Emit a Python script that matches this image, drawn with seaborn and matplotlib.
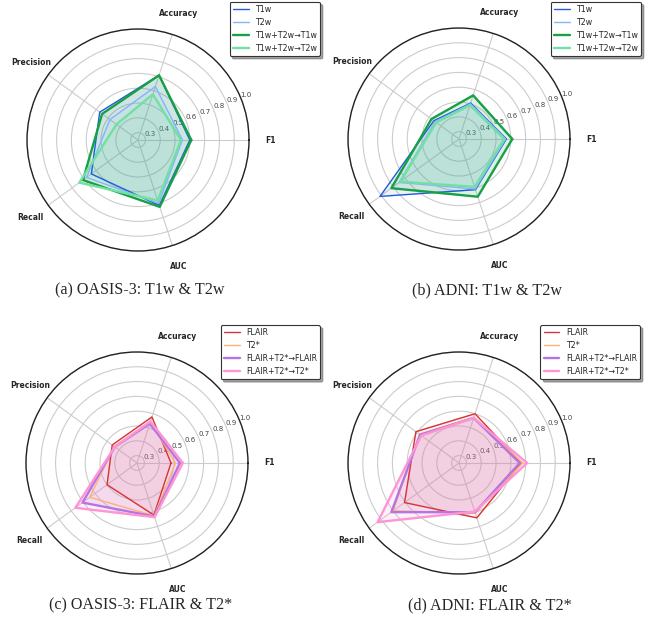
import numpy as np
import pandas as pd
import seaborn as sns
import matplotlib
matplotlib.use("Agg")
import matplotlib.pyplot as plt

# metrics around the radar (counter-clockwise from the right)
metrics = ['F1', 'Accuracy', 'Precision', 'Recall', 'AUC']
metric_angles = [0, 72, 144, 216, 288]
r_ticks = [0.3, 0.4, 0.5, 0.6, 0.7, 0.8, 0.9, 1.0]

# (a) OASIS-3: T1w & T2w
oasis_t1w = [0.60, 0.71, 0.57, 0.64, 0.715]
oasis_t2w = [0.55, 0.63, 0.485, 0.68, 0.70]
oasis_t1t2_t1w = [0.61, 0.71, 0.55, 0.71, 0.725]
oasis_t1t2_t2w = [0.54, 0.575, 0.43, 0.74, 0.68]

# (b) ADNI: T1w & T2w
adni_t1w = [0.57, 0.505, 0.46, 0.91, 0.61]
adni_t2w = [0.565, 0.50, 0.45, 0.75, 0.605]
adni_t1t2_t1w = [0.61, 0.56, 0.48, 0.815, 0.66]
adni_t1t2_t2w = [0.555, 0.49, 0.44, 0.74, 0.59]

# (c) OASIS-3: FLAIR & T2*
oasis_flair = [0.48, 0.577, 0.457, 0.50, 0.62]
oasis_t2s = [0.51, 0.54, 0.44, 0.645, 0.625]
oasis_ft_flair = [0.54, 0.53, 0.435, 0.705, 0.63]
oasis_ft_t2s = [0.56, 0.545, 0.435, 0.765, 0.635]

# (d) ADNI: FLAIR & T2*
adni_flair = [0.67, 0.60, 0.61, 0.705, 0.64]
adni_t2s = [0.68, 0.575, 0.58, 0.80, 0.605]
adni_ft_flair = [0.66, 0.57, 0.575, 0.815, 0.60]
adni_ft_t2s = [0.71, 0.57, 0.565, 0.93, 0.595]

labels_t = ['T1w', 'T2w', 'T1w+T2w→T1w', 'T1w+T2w→T2w']
labels_f = ['FLAIR', 'T2*', 'FLAIR+T2*→FLAIR', 'FLAIR+T2*→T2*']
colors_t = ['#1f5fd6', '#85b4ff', '#17a046', '#72e0a2']
colors_f = ['#d83434', '#ffb273', '#b474e4', '#ff94d4']
widths = [1.0, 1.0, 1.7, 1.7]
fill_alpha = [0.08, 0.08, 0.14, 0.14]

sns.set_style('white')
plt.rcParams['font.family'] = ['DejaVu Sans']

fig = plt.figure(figsize=(6.46, 6.21), dpi=100)


def radar(rect, series, names, colors, legend_corner):
    ax = fig.add_axes(rect, projection='polar')
    ang = np.deg2rad(metric_angles + [360])
    for vals, name, col, lw, fa in zip(series, names, colors, widths, fill_alpha):
        closed = vals + [vals[0]]
        sns.lineplot(x=ang, y=closed, sort=False, color=col, lw=lw,
                     label=name, ax=ax)
        ax.fill(ang, closed, color=col, alpha=fa)
    ax.set_ylim(0.25, 1.0)
    ax.set_thetagrids(metric_angles, metrics, fontsize=5.5, fontweight='bold')
    ax.set_rgrids(r_ticks, [str(t) for t in r_ticks], angle=22.5,
                  fontsize=5, color='#444444')
    ax.tick_params(axis='x', pad=5)
    ax.grid(True, color='#cccccc', lw=0.8)
    ax.spines['polar'].set_color('#222222')
    ax.spines['polar'].set_linewidth(1.0)
    ax.set_xlabel('')
    ax.set_ylabel('')
    leg = ax.legend(loc='upper right', bbox_to_anchor=legend_corner,
                    bbox_transform=fig.transFigure, fontsize=5.7,
                    frameon=True, shadow=True, fancybox=True,
                    borderaxespad=0, handlelength=2.0)
    leg.get_frame().set_edgecolor('#333333')
    leg.get_frame().set_linewidth(0.8)
    return ax


radar([0.0418, 0.5958, 0.3437, 0.3575],
      [oasis_t1w, oasis_t2w, oasis_t1t2_t1w, oasis_t1t2_t2w],
      labels_t, colors_t, (0.4954, 0.997))
radar([0.5387, 0.5974, 0.3437, 0.3575],
      [adni_t1w, adni_t2w, adni_t1t2_t1w, adni_t1t2_t2w],
      labels_t, colors_t, (0.9923, 0.997))
radar([0.0402, 0.0757, 0.3437, 0.3575],
      [oasis_flair, oasis_t2s, oasis_ft_flair, oasis_ft_t2s],
      labels_f, colors_f, (0.4954, 0.4766))
radar([0.5387, 0.0757, 0.3437, 0.3575],
      [adni_flair, adni_t2s, adni_ft_flair, adni_ft_t2s],
      labels_f, colors_f, (0.9907, 0.4766))

cap_font = dict(family=['Liberation Serif'], fontsize=11.6, ha='center', va='center')
fig.text(140 / 646, 1 - 290 / 621, '(a) OASIS-3: T1w & T2w', **cap_font)
fig.text(487 / 646, 1 - 290 / 621, '(b) ADNI: T1w & T2w', **cap_font)
fig.text(141 / 646, 1 - 605 / 621, '(c) OASIS-3: FLAIR & T2*', **cap_font)
fig.text(490 / 646, 1 - 605 / 621, '(d) ADNI: FLAIR & T2*', **cap_font)

fig.savefig('out.png', dpi=100)
